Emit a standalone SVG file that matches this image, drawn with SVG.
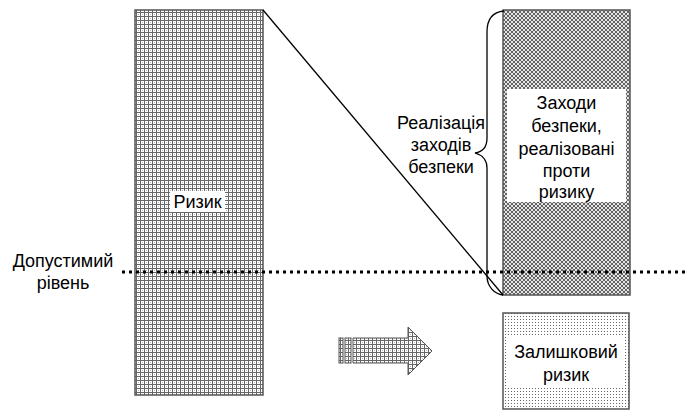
<svg xmlns="http://www.w3.org/2000/svg" width="688" height="418" viewBox="0 0 688 418">
<style>
text{font-family:"Liberation Sans",Arial,sans-serif;font-size:18px;fill:#000;text-anchor:middle}
.box{stroke:#555;stroke-width:1.5}
.line{fill:none;stroke:#000;stroke-width:1.3}
</style>
<defs>
<pattern id="grid" width="4" height="4" patternUnits="userSpaceOnUse">
<rect width="4" height="4" fill="#fff"/>
<path d="M0 0.5H4M0.5 0V4" stroke="#666" stroke-width="1"/>
<rect x="2" y="2" width="1" height="1" fill="#bbb"/>
</pattern>
<pattern id="hatch" width="4" height="4" patternUnits="userSpaceOnUse">
<rect width="4" height="4" fill="#e4e4e4"/>
<path d="M0 0L4 4M4 0L0 4" stroke="#555" stroke-width="0.9"/>
</pattern>
<pattern id="dots" width="3" height="3" patternUnits="userSpaceOnUse">
<rect width="3" height="3" fill="#fff"/>
<rect x="1" y="1" width="1" height="1" fill="#666"/>
</pattern>
</defs>

<g id="risk">
<rect class="box" x="135" y="10" width="128" height="385" fill="url(#grid)"/>
<rect x="170" y="191" width="55" height="21" fill="#fff"/>
<text x="197.5" y="208">Ризик</text>
</g>

<g id="measures">
<rect class="box" x="503" y="10" width="127" height="285" fill="url(#hatch)"/>
<rect x="507" y="89" width="119" height="113" fill="#fff"/>
<text x="566.5" y="109">Заходи</text>
<text x="566.5" y="132">безпеки,</text>
<text x="566.5" y="155">реалізовані</text>
<text x="566.5" y="177">проти</text>
<text x="566.5" y="198">ризику</text>
</g>

<g id="residual">
<rect class="box" x="503" y="313" width="126" height="96" fill="url(#dots)"/>
<rect x="508" y="336" width="116" height="50" fill="#fff"/>
<text x="566" y="358">Залишковий</text>
<text x="566" y="381">ризик</text>
</g>

<g id="level">
<text x="63" y="267">Допустимий</text>
<text x="63" y="289">рівень</text>
</g>

<g id="implementation">
<text x="441" y="129">Реалізація</text>
<text x="441" y="151">заходів</text>
<text x="441" y="173">безпеки</text>
</g>

<g id="arrow">
<rect x="339" y="338" width="4" height="25" fill="url(#grid)" stroke="#555" stroke-width="1"/>
<rect x="345" y="338" width="6" height="25" fill="url(#grid)" stroke="#555" stroke-width="1"/>
<path d="M353 338H408V327L432 351L408 375V363H353Z" fill="url(#grid)" stroke="#555" stroke-width="1"/>
</g>

<g id="connectors">
<path class="line" d="M263 10L503 295"/>
<path class="line" d="M504 11C492 12 487 20 487 32V138C487 148 482 152 475 153C482 155 487 159 487 168V276C487 286 494 294 503 295"/>
<path d="M122 272H688" stroke="#000" stroke-width="3" stroke-dasharray="3 4"/>
</g>
</svg>
